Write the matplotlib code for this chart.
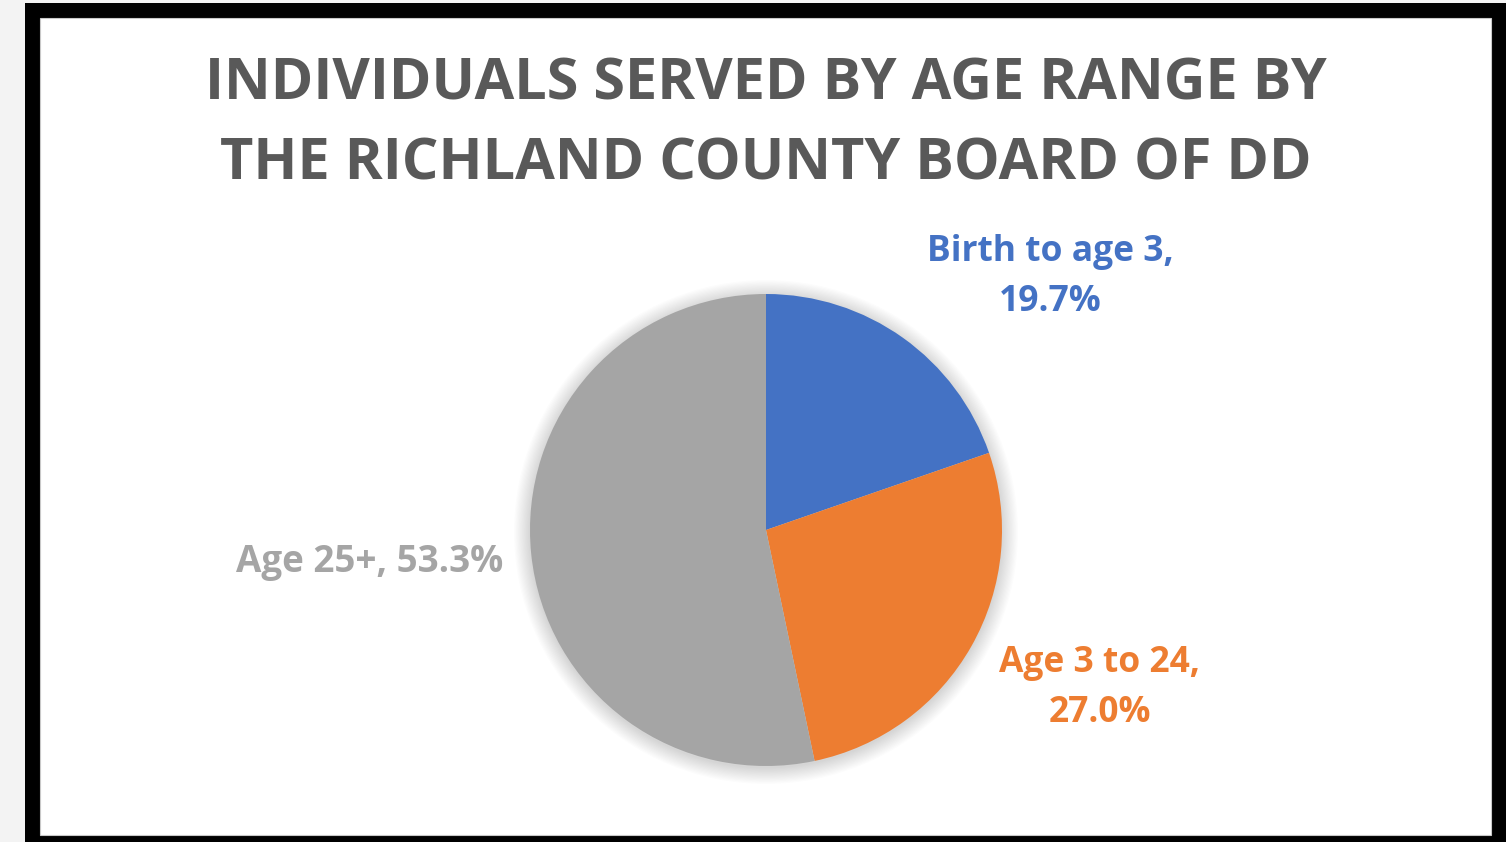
import matplotlib
matplotlib.use('Agg')
import matplotlib.pyplot as plt
from matplotlib.patches import Rectangle, Circle

# data
categories = ['Birth to age 3', 'Age 3 to 24', 'Age 25+']
shares = [19.7, 27.0, 53.3]
colors = ['#4472C4', '#ED7D31', '#A5A5A5']
title = 'INDIVIDUALS SERVED BY AGE RANGE BY\nTHE RICHLAND COUNTY BOARD OF DD'

W, H = 1506, 842
fig = plt.figure(figsize=(W / 100, H / 100), dpi=100)
fig.patch.set_facecolor('#f3f3f3')

# background axes in pixel coords (y down)
ax = fig.add_axes([0, 0, 1, 1])
ax.set_xlim(0, W)
ax.set_ylim(H, 0)
ax.axis('off')

ax.add_patch(Rectangle((25, 3), W - 25, H - 3, facecolor='black', edgecolor='none', zorder=0))
ax.add_patch(Rectangle((40, 18), 1451, 817, facecolor='white', edgecolor='#c8c8c8',
                       linewidth=0.8, zorder=1))

cx, cy, r = 766, 530, 236

# soft shadow around the pie
for i in range(14):
    ax.add_patch(Circle((cx, cy + 2), r + 16 - i * 1.2, facecolor='#000000',
                        alpha=0.012, edgecolor='none', zorder=2))

font = ['Open Sans', 'DejaVu Sans']
ax.text(766, 124, title, ha='center', va='center', fontsize=41.5, fontweight='bold',
        color='#595959', family=font, linespacing=1.5, zorder=5)

lab_fs = 25.5
ax.text(1050, 277, f'{categories[0]},\n{shares[0]:.1f}%', ha='center', va='center',
        fontsize=lab_fs, fontweight='bold', color=colors[0], family=font,
        linespacing=1.55, zorder=5)
ax.text(1100, 688, f'{categories[1]},\n{shares[1]:.1f}%', ha='center', va='center',
        fontsize=lab_fs, fontweight='bold', color=colors[1], family=font,
        linespacing=1.55, zorder=5)
ax.text(370, 562, f'{categories[2]}, {shares[2]:.1f}%', ha='center', va='center',
        fontsize=26.5, fontweight='bold', color=colors[2], family=font, zorder=5)

# pie in its own axes
pax = fig.add_axes([(cx - r) / W, (H - cy - r) / H, 2 * r / W, 2 * r / H])
pax.pie(shares, colors=colors, startangle=90, counterclock=False, radius=1,
        wedgeprops=dict(linewidth=0))
pax.set_xlim(-1, 1)
pax.set_ylim(-1, 1)
pax.axis('off')

fig.savefig('out.png', dpi=100)
